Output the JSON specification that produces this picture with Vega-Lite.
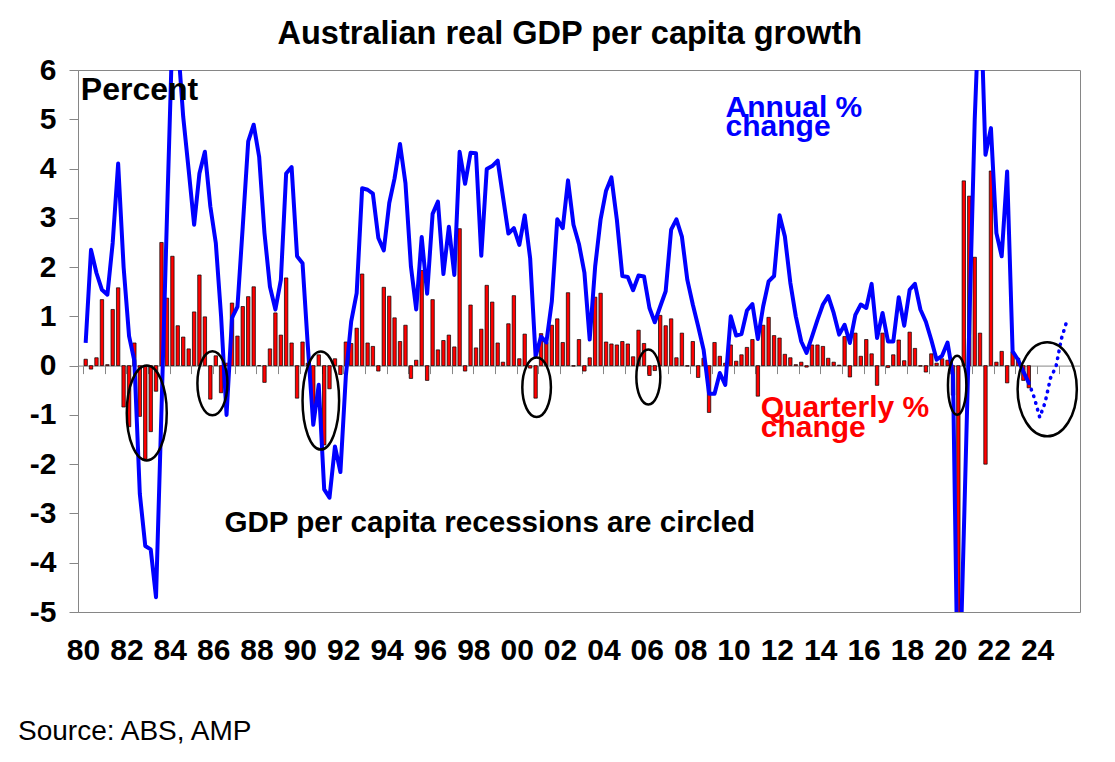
{
  "$schema": "https://vega.github.io/schema/vega-lite/v6.json",
  "width": 1002,
  "height": 542,
  "autosize": {"type": "none"},
  "padding": {"left": 78, "top": 70, "right": 35, "bottom": 150},
  "background": "white",
  "datasets": {
    "gdp": [
      {"d": "1980-02-15", "q": 0.13, "a": 0.46}, {"d": "1980-05-15", "q": -0.07, "a": 2.35}, {"d": "1980-08-15", "q": 0.16, "a": 1.88}, {"d": "1980-11-15", "q": 1.34, "a": 1.54},
      {"d": "1981-02-15", "q": 0.02, "a": 1.44}, {"d": "1981-05-15", "q": 1.14, "a": 2.49}, {"d": "1981-08-15", "q": 1.58, "a": 4.1}, {"d": "1981-11-15", "q": -0.84, "a": 2.0},
      {"d": "1982-02-15", "q": -1.24, "a": 0.6}, {"d": "1982-05-15", "q": 0.46, "a": 0.1}, {"d": "1982-08-15", "q": -1.03, "a": -2.6}, {"d": "1982-11-15", "q": -1.9, "a": -3.66},
      {"d": "1983-02-15", "q": -1.34, "a": -3.73}, {"d": "1983-05-15", "q": -0.52, "a": -4.7}, {"d": "1983-08-15", "q": 2.5, "a": -0.9}, {"d": "1983-11-15", "q": 1.37, "a": 3.0},
      {"d": "1984-02-15", "q": 2.22, "a": 6.8}, {"d": "1984-05-15", "q": 0.81, "a": 6.6}, {"d": "1984-08-15", "q": 0.58, "a": 5.05}, {"d": "1984-11-15", "q": 0.34, "a": 3.97},
      {"d": "1985-02-15", "q": 1.09, "a": 2.86}, {"d": "1985-05-15", "q": 1.84, "a": 3.9}, {"d": "1985-08-15", "q": 0.99, "a": 4.34}, {"d": "1985-11-15", "q": -0.68, "a": 3.23},
      {"d": "1986-02-15", "q": 0.2, "a": 2.49}, {"d": "1986-05-15", "q": -0.55, "a": 1.0}, {"d": "1986-08-15", "q": 0.05, "a": -1.0}, {"d": "1986-11-15", "q": 1.27, "a": 0.97},
      {"d": "1987-02-15", "q": 0.6, "a": 1.2}, {"d": "1987-05-15", "q": 1.2, "a": 2.82}, {"d": "1987-08-15", "q": 1.4, "a": 4.55}, {"d": "1987-11-15", "q": 1.6, "a": 4.89},
      {"d": "1988-02-15", "q": 0.0, "a": 4.24}, {"d": "1988-05-15", "q": -0.34, "a": 2.69}, {"d": "1988-08-15", "q": 0.34, "a": 1.6}, {"d": "1988-11-15", "q": 1.07, "a": 1.14},
      {"d": "1989-02-15", "q": 0.62, "a": 1.74}, {"d": "1989-05-15", "q": 1.78, "a": 3.9}, {"d": "1989-08-15", "q": 0.46, "a": 4.03}, {"d": "1989-11-15", "q": -0.66, "a": 2.22},
      {"d": "1990-02-15", "q": 0.48, "a": 2.08}, {"d": "1990-05-15", "q": 0.05, "a": 0.4}, {"d": "1990-08-15", "q": -1.0, "a": -1.2}, {"d": "1990-11-15", "q": 0.22, "a": -0.39},
      {"d": "1991-02-15", "q": -1.61, "a": -2.51}, {"d": "1991-05-15", "q": -0.47, "a": -2.68}, {"d": "1991-08-15", "q": 0.14, "a": -1.64}, {"d": "1991-11-15", "q": -0.18, "a": -2.16},
      {"d": "1992-02-15", "q": 0.48, "a": -0.2}, {"d": "1992-05-15", "q": 0.45, "a": 0.9}, {"d": "1992-08-15", "q": 0.76, "a": 1.47}, {"d": "1992-11-15", "q": 1.86, "a": 3.6},
      {"d": "1993-02-15", "q": 0.46, "a": 3.57}, {"d": "1993-05-15", "q": 0.39, "a": 3.49}, {"d": "1993-08-15", "q": -0.11, "a": 2.59}, {"d": "1993-11-15", "q": 1.59, "a": 2.34},
      {"d": "1994-02-15", "q": 1.41, "a": 3.3}, {"d": "1994-05-15", "q": 0.97, "a": 3.8}, {"d": "1994-08-15", "q": 0.49, "a": 4.5}, {"d": "1994-11-15", "q": 0.82, "a": 3.7},
      {"d": "1995-02-15", "q": -0.26, "a": 2.01}, {"d": "1995-05-15", "q": 0.11, "a": 1.14}, {"d": "1995-08-15", "q": 1.93, "a": 2.61}, {"d": "1995-11-15", "q": -0.3, "a": 1.46},
      {"d": "1996-02-15", "q": 1.34, "a": 3.08}, {"d": "1996-05-15", "q": 0.32, "a": 3.33}, {"d": "1996-08-15", "q": 0.51, "a": 1.86}, {"d": "1996-11-15", "q": 0.62, "a": 2.82},
      {"d": "1997-02-15", "q": 0.38, "a": 1.84}, {"d": "1997-05-15", "q": 2.78, "a": 4.34}, {"d": "1997-08-15", "q": -0.11, "a": 3.69}, {"d": "1997-11-15", "q": 1.23, "a": 4.32},
      {"d": "1998-02-15", "q": 0.36, "a": 4.31}, {"d": "1998-05-15", "q": 0.74, "a": 2.23}, {"d": "1998-08-15", "q": 1.63, "a": 3.99}, {"d": "1998-11-15", "q": 1.29, "a": 4.05},
      {"d": "1999-02-15", "q": 0.46, "a": 4.16}, {"d": "1999-05-15", "q": 0.07, "a": 3.43}, {"d": "1999-08-15", "q": 0.85, "a": 2.68}, {"d": "1999-11-15", "q": 1.42, "a": 2.79},
      {"d": "2000-02-15", "q": 0.14, "a": 2.45}, {"d": "2000-05-15", "q": 0.64, "a": 3.05}, {"d": "2000-08-15", "q": -0.05, "a": 2.18}, {"d": "2000-11-15", "q": -0.66, "a": 0.19},
      {"d": "2001-02-15", "q": 0.65, "a": 0.59}, {"d": "2001-05-15", "q": 0.47, "a": 0.47}, {"d": "2001-08-15", "q": 0.82, "a": 1.3}, {"d": "2001-11-15", "q": 0.95, "a": 2.97},
      {"d": "2002-02-15", "q": 0.47, "a": 2.79}, {"d": "2002-05-15", "q": 1.48, "a": 3.76}, {"d": "2002-08-15", "q": -0.01, "a": 2.86}, {"d": "2002-11-15", "q": 0.53, "a": 2.47},
      {"d": "2003-02-15", "q": -0.11, "a": 1.89}, {"d": "2003-05-15", "q": 0.16, "a": 0.53}, {"d": "2003-08-15", "q": 1.39, "a": 2.01}, {"d": "2003-11-15", "q": 1.47, "a": 2.97},
      {"d": "2004-02-15", "q": 0.48, "a": 3.55}, {"d": "2004-05-15", "q": 0.44, "a": 3.82}, {"d": "2004-08-15", "q": 0.42, "a": 2.96}, {"d": "2004-11-15", "q": 0.49, "a": 1.82},
      {"d": "2005-02-15", "q": 0.44, "a": 1.8}, {"d": "2005-05-15", "q": 0.18, "a": 1.53}, {"d": "2005-08-15", "q": 0.72, "a": 1.83}, {"d": "2005-11-15", "q": 0.45, "a": 1.81},
      {"d": "2006-02-15", "q": -0.2, "a": 1.17}, {"d": "2006-05-15", "q": -0.1, "a": 0.88}, {"d": "2006-08-15", "q": 1.02, "a": 1.2}, {"d": "2006-11-15", "q": 0.81, "a": 1.51},
      {"d": "2007-02-15", "q": 0.95, "a": 2.76}, {"d": "2007-05-15", "q": 0.16, "a": 2.97}, {"d": "2007-08-15", "q": 0.66, "a": 2.62}, {"d": "2007-11-15", "q": -0.01, "a": 1.74},
      {"d": "2008-02-15", "q": 0.49, "a": 1.24}, {"d": "2008-05-15", "q": -0.24, "a": 0.8}, {"d": "2008-08-15", "q": 0.15, "a": 0.32}, {"d": "2008-11-15", "q": -0.95, "a": -0.57},
      {"d": "2009-02-15", "q": 0.47, "a": -0.57}, {"d": "2009-05-15", "q": 0.19, "a": -0.15}, {"d": "2009-08-15", "q": 0.05, "a": -0.39}, {"d": "2009-11-15", "q": 0.42, "a": 1.0},
      {"d": "2010-02-15", "q": 0.09, "a": 0.61}, {"d": "2010-05-15", "q": 0.22, "a": 0.64}, {"d": "2010-08-15", "q": 0.37, "a": 1.12}, {"d": "2010-11-15", "q": 0.53, "a": 1.25},
      {"d": "2011-02-15", "q": -0.62, "a": 0.54}, {"d": "2011-05-15", "q": 0.82, "a": 1.2}, {"d": "2011-08-15", "q": 0.98, "a": 1.71}, {"d": "2011-11-15", "q": 0.61, "a": 1.82},
      {"d": "2012-02-15", "q": 0.56, "a": 3.05}, {"d": "2012-05-15", "q": 0.23, "a": 2.62}, {"d": "2012-08-15", "q": 0.16, "a": 1.68}, {"d": "2012-11-15", "q": 0.02, "a": 1.0},
      {"d": "2013-02-15", "q": 0.07, "a": 0.49}, {"d": "2013-05-15", "q": -0.03, "a": 0.26}, {"d": "2013-08-15", "q": 0.42, "a": 0.59}, {"d": "2013-11-15", "q": 0.42, "a": 0.93},
      {"d": "2014-02-15", "q": 0.39, "a": 1.24}, {"d": "2014-05-15", "q": 0.15, "a": 1.41}, {"d": "2014-08-15", "q": 0.07, "a": 1.07}, {"d": "2014-11-15", "q": 0.01, "a": 0.63},
      {"d": "2015-02-15", "q": 0.59, "a": 0.83}, {"d": "2015-05-15", "q": -0.23, "a": 0.46}, {"d": "2015-08-15", "q": 0.66, "a": 1.03}, {"d": "2015-11-15", "q": 0.19, "a": 1.24},
      {"d": "2016-02-15", "q": 0.53, "a": 1.17}, {"d": "2016-05-15", "q": 0.24, "a": 1.66}, {"d": "2016-08-15", "q": -0.4, "a": 0.56}, {"d": "2016-11-15", "q": 0.66, "a": 1.07},
      {"d": "2017-02-15", "q": -0.04, "a": 0.49}, {"d": "2017-05-15", "q": 0.22, "a": 0.49}, {"d": "2017-08-15", "q": 0.52, "a": 1.39}, {"d": "2017-11-15", "q": 0.1, "a": 0.81},
      {"d": "2018-02-15", "q": 0.68, "a": 1.54}, {"d": "2018-05-15", "q": 0.35, "a": 1.66}, {"d": "2018-08-15", "q": -0.01, "a": 1.14}, {"d": "2018-11-15", "q": -0.13, "a": 0.89},
      {"d": "2019-02-15", "q": 0.24, "a": 0.52}, {"d": "2019-05-15", "q": 0.05, "a": 0.12}, {"d": "2019-08-15", "q": 0.14, "a": 0.2}, {"d": "2019-11-15", "q": 0.11, "a": 0.47},
      {"d": "2020-02-15", "q": -0.6, "a": -0.2}, {"d": "2020-05-15", "q": -7.3, "a": -7.5}, {"d": "2020-08-15", "q": 3.75, "a": -3.4}, {"d": "2020-11-15", "q": 3.44, "a": 0.8},
      {"d": "2021-02-15", "q": 2.2, "a": 5.0}, {"d": "2021-05-15", "q": 0.66, "a": 7.8}, {"d": "2021-08-15", "q": -2.0, "a": 4.28}, {"d": "2021-11-15", "q": 3.95, "a": 4.82},
      {"d": "2022-02-15", "q": 0.07, "a": 2.69}, {"d": "2022-05-15", "q": 0.29, "a": 2.22}, {"d": "2022-08-15", "q": -0.35, "a": 3.94}, {"d": "2022-11-15", "q": 0.28, "a": 0.29},
      {"d": "2023-02-15", "q": 0.15, "a": 0.12}, {"d": "2023-05-15", "q": -0.3, "a": -0.12}, {"d": "2023-08-15", "q": -0.45, "a": -0.35, "f": -0.35}, {"d": "2023-11-15", "f": -0.65},
      {"d": "2024-02-15", "f": -1.05}, {"d": "2024-05-15", "f": -0.75}, {"d": "2024-08-15", "f": -0.25}, {"d": "2024-11-15", "f": -0.02},
      {"d": "2025-02-15", "f": 0.55}, {"d": "2025-05-15", "f": 0.9}
    ]
  },
  "layer": [
    {
      "data": {"name": "gdp"},
      "transform": [{"filter": "isValid(datum.q)"}],
      "mark": {"type": "bar", "color": "#FF0000", "stroke": "#000000", "strokeWidth": 0.7, "width": 3.4, "clip": true},
      "encoding": {
        "x": {
          "field": "d",
          "type": "temporal",
          "scale": {"type": "utc", "domain": ["1980-01-01", "2025-10-01"], "nice": false},
          "axis": {
            "orient": "bottom",
            "title": null,
            "format": "%y",
            "tickCount": {"interval": "year", "step": 2},
            "ticks": false,
            "domain": false,
            "grid": false,
            "labelFont": "Liberation Sans",
            "labelFontSize": 30,
            "labelFontWeight": "bold",
            "labelColor": "black",
            "labelPadding": 23,
            "labelOverlap": false,
            "labelFlush": false,
            "labelBound": false
          }
        },
        "y": {
          "field": "q",
          "type": "quantitative",
          "scale": {"domain": [-5, 6], "nice": false, "zero": false},
          "axis": {
            "title": null,
            "values": [-5, -4, -3, -2, -1, 0, 1, 2, 3, 4, 5, 6],
            "labelExpr": "'' + datum.value",
            "grid": false,
            "labelFont": "Liberation Sans",
            "labelFontSize": 30,
            "labelFontWeight": "bold",
            "labelColor": "black",
            "labelPadding": 13,
            "tickSize": 9,
            "tickColor": "#868686",
            "domainColor": "#868686"
          }
        }
      }
    },
    {
      "data": {"name": "gdp"},
      "transform": [{"filter": "isValid(datum.a)"}],
      "mark": {"type": "line", "color": "#0000FF", "strokeWidth": 4, "strokeJoin": "round", "clip": true},
      "encoding": {
        "x": {
          "field": "d",
          "type": "temporal",
          "scale": {"type": "utc"},
          "axis": {
            "orient": "bottom",
            "offset": -246.4,
            "title": null,
            "labels": false,
            "grid": false,
            "tickCount": {"interval": "year", "step": 1},
            "tickSize": 8,
            "tickColor": "#868686",
            "domainColor": "#868686"
          }
        },
        "y": {"field": "a", "type": "quantitative", "title": null}
      }
    },
    {
      "data": {"name": "gdp"},
      "transform": [{"filter": "isValid(datum.f)"}],
      "mark": {"type": "line", "color": "#0000FF", "strokeWidth": 3.6, "strokeCap": "round", "strokeDash": [0.5, 6.5], "clip": true},
      "encoding": {
        "x": {"field": "d", "type": "temporal", "scale": {"type": "utc"}, "axis": null},
        "y": {"field": "f", "type": "quantitative", "title": null}
      }
    },
    {
      "data": {"values": [{"d": "2002-06-14", "v": 6.53, "t": "Australian real GDP per capita growth"}]},
      "mark": {"type": "text", "align": "center", "baseline": "alphabetic", "font": "Liberation Sans", "fontSize": 32.5, "fontWeight": "bold", "color": "black"},
      "encoding": {
        "x": {"field": "d", "type": "temporal", "scale": {"type": "utc"}, "axis": null},
        "y": {"field": "v", "type": "quantitative", "title": null},
        "text": {"field": "t"}
      }
    },
    {
      "data": {"values": [{"d": "1979-11-25", "v": 5.39, "t": "Percent"}]},
      "mark": {"type": "text", "align": "left", "baseline": "alphabetic", "font": "Liberation Sans", "fontSize": 32, "fontWeight": "bold", "color": "black"},
      "encoding": {
        "x": {"field": "d", "type": "temporal", "scale": {"type": "utc"}, "axis": null},
        "y": {"field": "v", "type": "quantitative", "title": null},
        "text": {"field": "t"}
      }
    },
    {
      "data": {"values": [{"d": "1986-07-10", "v": -3.38, "t": "GDP per capita recessions are circled"}]},
      "mark": {"type": "text", "align": "left", "baseline": "alphabetic", "font": "Liberation Sans", "fontSize": 29.6, "fontWeight": "bold", "color": "black"},
      "encoding": {
        "x": {"field": "d", "type": "temporal", "scale": {"type": "utc"}, "axis": null},
        "y": {"field": "v", "type": "quantitative", "title": null},
        "text": {"field": "t"}
      }
    },
    {
      "data": {"values": [
        {"d": "2009-08-20", "v": 5.05, "t": "Annual %"},
        {"d": "2009-08-20", "v": 4.66, "t": "change"}
      ]},
      "mark": {"type": "text", "align": "left", "baseline": "alphabetic", "font": "Liberation Sans", "fontSize": 30, "fontWeight": "bold", "color": "#0000FF"},
      "encoding": {
        "x": {"field": "d", "type": "temporal", "scale": {"type": "utc"}, "axis": null},
        "y": {"field": "v", "type": "quantitative", "title": null},
        "text": {"field": "t"}
      }
    },
    {
      "data": {"values": [
        {"d": "2011-04-05", "v": -1.04, "t": "Quarterly %"},
        {"d": "2011-04-05", "v": -1.44, "t": "change"}
      ]},
      "mark": {"type": "text", "align": "left", "baseline": "alphabetic", "font": "Liberation Sans", "fontSize": 30, "fontWeight": "bold", "color": "#FF0000"},
      "encoding": {
        "x": {"field": "d", "type": "temporal", "scale": {"type": "utc"}, "axis": null},
        "y": {"field": "v", "type": "quantitative", "title": null},
        "text": {"field": "t"}
      }
    },
    {
      "data": {"values": [{"d": "1977-01-01", "v": -7.6, "t": "Source: ABS, AMP"}]},
      "mark": {"type": "text", "align": "left", "baseline": "alphabetic", "font": "Liberation Sans", "fontSize": 28, "color": "black"},
      "encoding": {
        "x": {"field": "d", "type": "temporal", "scale": {"type": "utc"}, "axis": null},
        "y": {"field": "v", "type": "quantitative", "title": null},
        "text": {"field": "t"}
      }
    },
    {
      "data": {"values": [{"d": "1982-12-10", "v": -0.96}]},
      "mark": {"type": "point", "shape": "M-0.421,0A0.421,1 0 1,1 0.421,0A0.421,1 0 1,1 -0.421,0Z", "size": 9025, "filled": false, "stroke": "black", "strokeWidth": 2.5, "opacity": 1},
      "encoding": {
        "x": {"field": "d", "type": "temporal", "scale": {"type": "utc"}, "axis": null},
        "y": {"field": "v", "type": "quantitative", "title": null}
      }
    },
    {
      "data": {"values": [{"d": "1985-12-20", "v": -0.36}]},
      "mark": {"type": "point", "shape": "M-0.469,0A0.469,1 0 1,1 0.469,0A0.469,1 0 1,1 -0.469,0Z", "size": 4096, "filled": false, "stroke": "black", "strokeWidth": 2.5, "opacity": 1},
      "encoding": {
        "x": {"field": "d", "type": "temporal", "scale": {"type": "utc"}, "axis": null},
        "y": {"field": "v", "type": "quantitative", "title": null}
      }
    },
    {
      "data": {"values": [{"d": "1990-12-20", "v": -0.71}]},
      "mark": {"type": "point", "shape": "M-0.373,0A0.373,1 0 1,1 0.373,0A0.373,1 0 1,1 -0.373,0Z", "size": 9604, "filled": false, "stroke": "black", "strokeWidth": 2.5, "opacity": 1},
      "encoding": {
        "x": {"field": "d", "type": "temporal", "scale": {"type": "utc"}, "axis": null},
        "y": {"field": "v", "type": "quantitative", "title": null}
      }
    },
    {
      "data": {"values": [{"d": "2000-12-02", "v": -0.44}]},
      "mark": {"type": "point", "shape": "M-0.48,0A0.48,1 0 1,1 0.48,0A0.48,1 0 1,1 -0.48,0Z", "size": 3552, "filled": false, "stroke": "black", "strokeWidth": 2.5, "opacity": 1},
      "encoding": {
        "x": {"field": "d", "type": "temporal", "scale": {"type": "utc"}, "axis": null},
        "y": {"field": "v", "type": "quantitative", "title": null}
      }
    },
    {
      "data": {"values": [{"d": "2006-01-27", "v": -0.23}]},
      "mark": {"type": "point", "shape": "M-0.436,0A0.436,1 0 1,1 0.436,0A0.436,1 0 1,1 -0.436,0Z", "size": 3025, "filled": false, "stroke": "black", "strokeWidth": 2.5, "opacity": 1},
      "encoding": {
        "x": {"field": "d", "type": "temporal", "scale": {"type": "utc"}, "axis": null},
        "y": {"field": "v", "type": "quantitative", "title": null}
      }
    },
    {
      "data": {"values": [{"d": "2020-04-25", "v": -0.4}]},
      "mark": {"type": "point", "shape": "M-0.312,0A0.312,1 0 1,1 0.312,0A0.312,1 0 1,1 -0.312,0Z", "size": 3481, "filled": false, "stroke": "black", "strokeWidth": 2.5, "opacity": 1},
      "encoding": {
        "x": {"field": "d", "type": "temporal", "scale": {"type": "utc"}, "axis": null},
        "y": {"field": "v", "type": "quantitative", "title": null}
      }
    },
    {
      "data": {"values": [{"d": "2024-06-20", "v": -0.48}]},
      "mark": {"type": "point", "shape": "M-0.63,0A0.63,1 0 1,1 0.63,0A0.63,1 0 1,1 -0.63,0Z", "size": 8836, "filled": false, "stroke": "black", "strokeWidth": 2.5, "opacity": 1},
      "encoding": {
        "x": {"field": "d", "type": "temporal", "scale": {"type": "utc"}, "axis": null},
        "y": {"field": "v", "type": "quantitative", "title": null}
      }
    }
  ],
  "resolve": {"axis": {"x": "independent"}},
  "config": {
    "font": "Liberation Sans",
    "view": {"stroke": "#868686", "strokeWidth": 1},
    "axis": {"grid": false}
  }
}
